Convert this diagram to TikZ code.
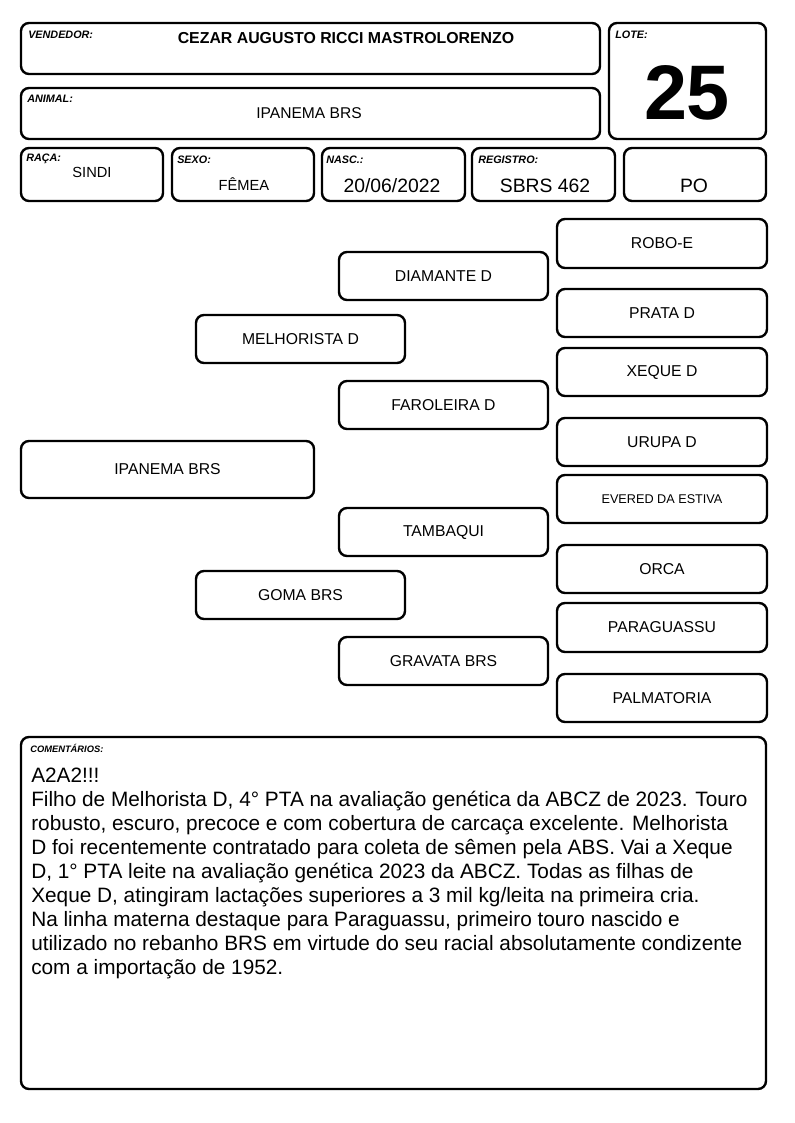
\documentclass[tikz,border=0pt]{standalone}
\usepackage{fontspec}
\setmainfont{Liberation Sans}
\begin{document}
\begin{tikzpicture}[x=0.75pt,y=-0.75pt,
  box/.style={draw=black,line width=1.8pt,rounded corners=6pt,inner sep=0pt,align=center,font=\fontsize{11.8pt}{13pt}\selectfont},
  lbl/.style={anchor=west,inner sep=0pt,font=\fontsize{8.1pt}{9pt}\selectfont\bfseries\itshape},
  val/.style={inner sep=0pt,font=\fontsize{11pt}{13pt}\selectfont},
  bigval/.style={inner sep=0pt,font=\fontsize{14.5pt}{16pt}\selectfont}]
\useasboundingbox (0,0) rectangle (794,1123);
\newcommand\bx[6]{\node[box,minimum width={(#4-#2)*0.75pt},minimum height={(#5-#3)*0.75pt}] (#1) at ({(#2+#4)/2},{(#3+#5)/2}) {#6};}
% header boxes
\bx{vend}{21}{23}{600}{74}{}
\bx{lote}{609}{23}{766}{139}{}
\bx{anim}{21}{88}{600}{139}{}
\bx{raca}{21}{148}{163}{201}{}
\bx{sexo}{172}{148}{314}{201}{}
\bx{nasc}{322}{148}{465}{201}{}
\bx{reg}{472}{148}{615}{201}{}
\bx{po}{624}{148}{766}{201}{}
\node[lbl] (lvend) at (28,35) {VENDEDOR:};
\node[inner sep=0pt,font=\fontsize{11.9pt}{13pt}\selectfont\bfseries] (tvend) at (346,38) {CEZAR AUGUSTO RICCI MASTROLORENZO};
\node[lbl] (llote) at (615,35) {LOTE:};
\node[inner sep=0pt,font=\fontsize{58pt}{60pt}\selectfont\bfseries] (tlote) at (687,93) {25};
\node[lbl] (lanim) at (27,99) {ANIMAL:};
\node[val,font=\fontsize{11.7pt}{13pt}\selectfont] (tanim) at (309,113) {IPANEMA BRS};
\node[lbl] (lraca) at (26,159) {RAÇA:};
\node[val] (traca) at (92,172) {SINDI};
\node[lbl] (lsexo) at (177,160) {SEXO:};
\node[val] (tsexo) at (244,184) {FÊMEA};
\node[lbl] (lnasc) at (326,160) {NASC.:};
\node[bigval] (tnasc) at (392,186) {20/06/2022};
\node[lbl] (lreg) at (478,160) {REGISTRO:};
\node[bigval] (treg) at (545,186) {SBRS 462};
\node[bigval] (tpo) at (694,186) {PO};
% pedigree
\bx{robo}{557}{219}{767}{268}{ROBO-E}
\bx{diam}{339}{252}{548}{300}{DIAMANTE D}
\bx{prata}{557}{289}{767}{337}{PRATA D}
\bx{melh}{196}{315}{405}{363}{MELHORISTA D}
\bx{xeque}{557}{348}{767}{396}{XEQUE D}
\bx{farol}{339}{381}{548}{429}{FAROLEIRA D}
\bx{urupa}{557}{418}{767}{466}{URUPA D}
\bx{ipan}{21}{441}{314}{498}{IPANEMA BRS}
\node[box,minimum width={210*0.75pt},minimum height={48*0.75pt},font=\fontsize{9.5pt}{11pt}\selectfont] (evered) at (662,499) {EVERED DA ESTIVA};
\bx{tamb}{339}{508}{548}{556}{TAMBAQUI}
\bx{orca}{557}{545}{767}{593}{ORCA}
\bx{goma}{196}{571}{405}{619}{GOMA BRS}
\bx{parag}{557}{603}{767}{652}{PARAGUASSU}
\bx{grav}{339}{637}{548}{685}{GRAVATA BRS}
\bx{palm}{557}{674}{767}{722}{PALMATORIA}
% comments
\bx{coment}{21}{737}{766}{1089}{}
\node[lbl,font=\fontsize{7pt}{8pt}\selectfont\bfseries\itshape] (lcom) at (30,748) {COMENTÁRIOS:};
\node[anchor=north west,inner sep=0pt,align=left,font=\fontsize{15.6pt}{18pt}\selectfont] (tcom) at (31,768) {A2A2!!!\\
Filho de Melhorista D, 4° PTA na avaliação genética da ABCZ de 2023. Touro\\
robusto, escuro, precoce e com cobertura de carcaça excelente. Melhorista\\
D foi recentemente contratado para coleta de sêmen pela ABS. Vai a Xeque\\
D, 1° PTA leite na avaliação genética 2023 da ABCZ. Todas as filhas de\\
Xeque D, atingiram lactações superiores a 3 mil kg/leita na primeira cria.\\
Na linha materna destaque para Paraguassu, primeiro touro nascido e\\
utilizado no rebanho BRS em virtude do seu racial absolutamente condizente\\
com a importação de 1952.};
\end{tikzpicture}
\end{document}
